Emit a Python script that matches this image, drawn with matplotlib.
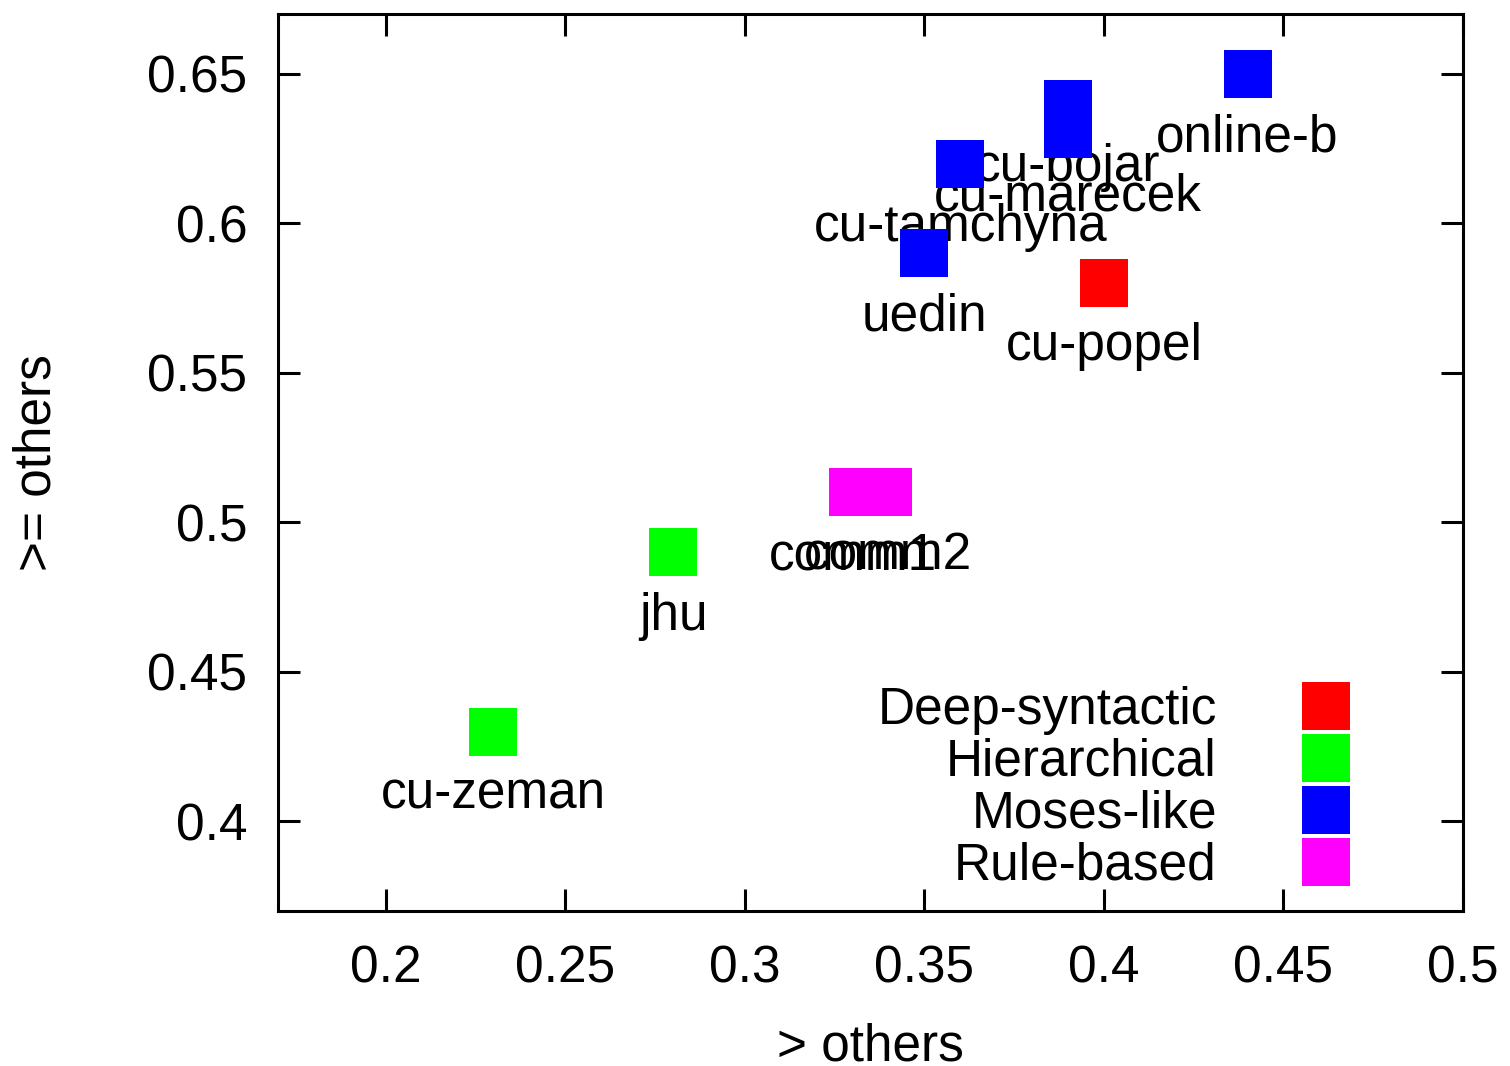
import matplotlib
matplotlib.use("Agg")
import matplotlib.pyplot as plt

plt.rcParams['font.family'] = ['Liberation Sans', 'DejaVu Sans']

# systems: share of "> others" vs ">= others"
names = ['online-b', 'cu-bojar', 'cu-marecek', 'cu-tamchyna', 'uedin',
         'cu-popel', 'comm1', 'comm2', 'jhu', 'cu-zeman']
gt_others = [0.44, 0.39, 0.39, 0.36, 0.35, 0.40, 0.33, 0.34, 0.28, 0.23]
ge_others = [0.65, 0.64, 0.63, 0.62, 0.59, 0.58, 0.51, 0.51, 0.49, 0.43]
groups = ['Moses-like', 'Moses-like', 'Moses-like', 'Moses-like', 'Moses-like',
          'Deep-syntactic', 'Rule-based', 'Rule-based', 'Hierarchical', 'Hierarchical']

group_names = ['Deep-syntactic', 'Hierarchical', 'Moses-like', 'Rule-based']
group_colors = ['#ff0000', '#00ff00', '#0000ff', '#ff00ff']

x_ticks = [0.2, 0.25, 0.3, 0.35, 0.4, 0.45, 0.5]
y_ticks = [0.4, 0.45, 0.5, 0.55, 0.6, 0.65]

fs = 37
fig = plt.figure(figsize=(15.10, 10.66), dpi=100)
ax = fig.add_axes([278/1510, 1 - 911/1066, (1463-278)/1510, (911-14)/1066])

# labels first, squares drawn over them
for n, x, y in zip(names, gt_others, ge_others):
    ax.annotate(n, (x, y), xytext=(0, -46), textcoords='offset points',
                ha='center', va='center', fontsize=fs, zorder=2)

for g, c in zip(group_names, group_colors):
    xs = [x for x, gg in zip(gt_others, groups) if gg == g]
    ys = [y for y, gg in zip(ge_others, groups) if gg == g]
    ax.plot(xs, ys, 's', color=c, ms=34, mew=0, ls='none', label=g, zorder=3)

ax.set_xlim(0.17, 0.5)
ax.set_ylim(0.37, 0.67)
ax.set_xticks(x_ticks)
ax.set_yticks(y_ticks)
ax.set_xticklabels([f'{v:g}' for v in x_ticks])
ax.set_yticklabels([f'{v:g}' for v in y_ticks])
ax.tick_params(direction='in', length=16, width=2.2, labelsize=fs,
               top=True, right=True)
ax.tick_params(axis='x', pad=24)
ax.tick_params(axis='y', pad=22)
for s in ax.spines.values():
    s.set_linewidth(2.2)

ax.set_xlabel('> others', fontsize=fs, labelpad=21)
ax.set_ylabel('>= others', fontsize=fs, labelpad=62)

ax.legend(loc='lower right', bbox_to_anchor=(0.905, 0.0225), frameon=False,
          markerfirst=False, fontsize=fs, handlelength=0.95, handletextpad=1.65,
          labelspacing=0.06, borderpad=0, borderaxespad=0)

fig.savefig('out.png', dpi=100)
